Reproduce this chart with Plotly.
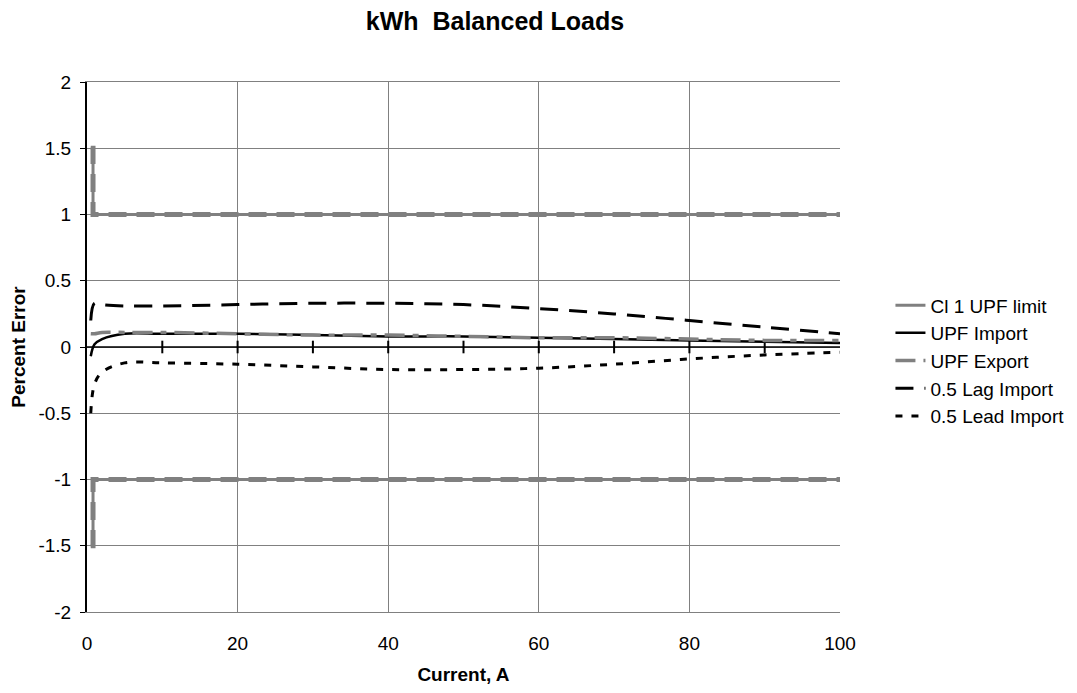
import plotly.graph_objects as go

# Data
limit_x = [0.5, 0.8, 0.8, 100]
limit_hi = [1.5, 1.5, 1.0, 1.0]
limit_lo = [-1.5, -1.5, -1.0, -1.0]

cur = [0.5, 1, 2, 5, 10, 20, 30, 40, 50, 60, 70, 80, 90, 100]
upf_import = [-0.07, 0.02, 0.06, 0.1, 0.1, 0.1, 0.09, 0.08, 0.08, 0.07, 0.06, 0.05, 0.04, 0.03]
upf_export = [0.1, 0.1, 0.11, 0.11, 0.11, 0.1, 0.09, 0.09, 0.08, 0.07, 0.07, 0.06, 0.05, 0.05]
lag_import = [0.2, 0.33, 0.32, 0.31, 0.31, 0.32, 0.33, 0.33, 0.32, 0.29, 0.25, 0.2, 0.15, 0.1]
lead_import = [-0.5, -0.28, -0.19, -0.12, -0.12, -0.13, -0.15, -0.17, -0.17, -0.16, -0.13, -0.09, -0.06, -0.04]

tick_x = [10, 20, 30, 40, 50, 60, 70, 80, 90]
y_ticks = [-2, -1.5, -1, -0.5, 0, 0.5, 1, 1.5, 2]
y_labels = ["-2", "-1.5", "-1", "-0.5", "0", "0.5", "1", "1.5", "2"]
x_ticks = [0, 20, 40, 60, 80, 100]

GRAY = "#808080"
fig = go.Figure()

# limit lines (solid + dashed overlay)
for ys, show in [(limit_hi, True), (limit_lo, False)]:
    fig.add_trace(go.Scatter(x=limit_x, y=ys, mode="lines", name="Cl 1 UPF limit",
                             line=dict(color=GRAY, width=3), showlegend=show,
                             legendgroup="lim"))
    fig.add_trace(go.Scatter(x=limit_x, y=ys, mode="lines", showlegend=False,
                             line=dict(color=GRAY, width=5, dash="18px,10px"),
                             legendgroup="lim"))

# zero axis line with ticks
fig.add_trace(go.Scatter(x=[0, 100], y=[0, 0], mode="lines", showlegend=False,
                         line=dict(color="black", width=1.5), hoverinfo="skip"))
fig.add_trace(go.Scatter(x=tick_x, y=[0] * len(tick_x), mode="markers", showlegend=False,
                         marker=dict(symbol="line-ns", size=9,
                                     line=dict(color="black", width=2)), hoverinfo="skip"))

fig.add_trace(go.Scatter(x=cur, y=upf_import, mode="lines", name="UPF Import",
                         line=dict(color="black", width=2.5, shape="spline")))
fig.add_trace(go.Scatter(x=cur, y=upf_export, mode="lines", name="UPF Export",
                         line=dict(color=GRAY, width=3.5, dash="20px,8px,6px,8px", shape="spline")))
fig.add_trace(go.Scatter(x=cur, y=lag_import, mode="lines", name="0.5 Lag Import",
                         line=dict(color="black", width=3, dash="18px,11px", shape="spline")))
fig.add_trace(go.Scatter(x=cur, y=lead_import, mode="lines", name="0.5 Lead Import",
                         line=dict(color="black", width=3, dash="7px,9px", shape="spline")))

W, H = 1069, 685
font = "Liberation Sans, Arial, sans-serif"
fig.update_layout(
    width=W, height=H,
    margin=dict(l=79, r=237, t=74, b=81, autoexpand=False),
    paper_bgcolor="white", plot_bgcolor="white",
    font=dict(family=font, size=19, color="black"),
    title=dict(text="<b>kWh  Balanced Loads</b>", x=487 / W, xanchor="center",
               y=1 - 13 / H, yanchor="middle", font=dict(size=25)),
    xaxis=dict(range=[0, 100], tickvals=x_ticks, showgrid=True, gridcolor=GRAY,
               gridwidth=1, zeroline=False, showline=True, linecolor=GRAY, mirror=True,
               ticks="outside", ticklen=14, tickcolor="rgba(0,0,0,0)", automargin=False,
               title=dict(text="<b>Current, A</b>", font=dict(size=19), standoff=14)),
    yaxis=dict(range=[-2, 2], tickvals=y_ticks, ticktext=y_labels, showgrid=True,
               gridcolor=GRAY, gridwidth=1, zeroline=False, showline=True,
               linecolor="black", linewidth=2, ticks="outside", ticklen=5,
               tickcolor="black", automargin=False, ticklabelstandoff=5,
               title=dict(text="<b>Percent Error</b>", font=dict(size=19), standoff=12)),
    legend=dict(x=1.067, y=0.474, xanchor="left", yanchor="middle",
                font=dict(size=19), tracegroupgap=0,
                bgcolor="rgba(0,0,0,0)"),
    showlegend=True,
)

fig.write_html("out.html")
